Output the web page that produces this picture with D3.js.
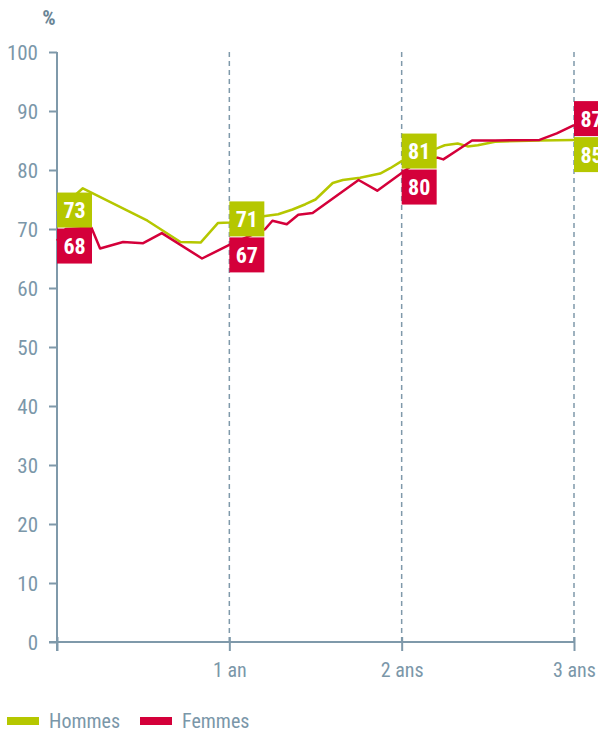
<!DOCTYPE html>
<html><head><meta charset="utf-8">
<script src="https://cdn.jsdelivr.net/npm/d3@7"></script>
<style>
html,body{margin:0;padding:0;background:#fff;}
svg{display:block;}
</style></head>
<body>
<svg id="c" width="598" height="730"></svg>
<script>
// ---- data ----
const monthsH = [0,1.8,6.3,8.6,10,11.2,12,14.5,15.4,16.4,17.3,18,19.2,19.9,21.1,22.5,23.2,24,26.5,27,27.9,28.6,29.3,30.5,33.6,36];
const hommes  = [73,76.9,71.4,67.8,67.7,71,71.1,72.2,72.5,73.3,74.2,75,77.8,78.3,78.7,79.4,80.3,81.5,83.7,84.2,84.5,84,84.2,84.8,85,85.1];
const monthsF = [0,0.6,2.4,3,4.6,6,7.3,10.1,12,14.5,15,16,16.8,17.8,21,22.3,24,24.9,26.5,26.9,27.9,28.9,30.5,33.6,34.8,36];
const femmes  = [68,70,70.2,66.7,67.8,67.6,69.3,65,67.3,70,71.4,70.8,72.4,72.7,78.3,76.5,79.5,81.1,82.1,81.8,83.4,85,85,85.1,86.2,87.6];
const labelMonths = [0,12,24,36];
const labelsH = [73,71,81,85];
const labelsF = [68,67,80,87];
const xTicks = [0,12,24,36];
const xTickLabels = ["","1 an","2 ans","3 ans"];
const yTicks = [0,10,20,30,40,50,60,70,80,90,100];
const seriesNames = ["Hommes","Femmes"];

const GREEN = "#b5c700", RED = "#d4003a", AXIS = "#7f99aa", TXT = "#7b97a9";
const svg = d3.select("#c");
const x = d3.scaleLinear().domain([0,36]).range([57,574]);
const y = d3.scaleLinear().domain([0,100]).range([642,52]);
const FONT = '"Liberation Sans Narrow","Roboto Condensed","DejaVu Sans Condensed",Roboto,sans-serif';

// y axis
const ya = svg.append("g").attr("transform","translate(57,0)")
  .call(d3.axisLeft(y).tickValues(yTicks).tickSize(8).tickPadding(11).tickSizeOuter(0));
ya.select(".domain").remove();
ya.selectAll(".tick line").attr("stroke",AXIS).attr("stroke-width",2);
ya.selectAll(".tick text").attr("fill",TXT).style("font-family",FONT).style("font-size","21px").attr("dy","0.35em");
svg.append("line").attr("x1",57).attr("x2",57).attr("y1",y(100)).attr("y2",y(0)+9)
  .attr("stroke",AXIS).attr("stroke-width",2);

// dashed verticals
svg.append("g").selectAll("line").data(xTicks.slice(1)).join("line")
  .attr("x1",d=>x(d)).attr("x2",d=>x(d)).attr("y1",y(100)).attr("y2",y(0))
  .attr("stroke",AXIS).attr("stroke-width",1.5).attr("stroke-dasharray","5,4");

// x axis
const xa = svg.append("g").attr("transform",`translate(0,${y(0)})`)
  .call(d3.axisBottom(x).tickValues(xTicks).tickFormat((d,i)=>xTickLabels[i]).tickSize(9).tickPadding(12).tickSizeOuter(0));
xa.select(".domain").attr("stroke",AXIS).attr("stroke-width",2).attr("d",`M49,0H${x(36)}`);
xa.selectAll(".tick line").attr("stroke",AXIS).attr("stroke-width",2).attr("y1",-5);
xa.selectAll(".tick text").attr("fill",TXT).style("font-family",FONT).style("font-size","20px");

// % label
svg.append("text").attr("x",49).attr("y",25).attr("text-anchor","middle").attr("fill","#6a8596")
  .style("font-family",FONT).style("font-weight","bold").style("font-size","21px").text("%");

// lines
const line = d3.line().x(d=>x(d[0])).y(d=>y(d[1]));
svg.append("path").datum(monthsH.map((m,i)=>[m,hommes[i]])).attr("d",line)
  .attr("fill","none").attr("stroke",GREEN).attr("stroke-width",2.5).attr("stroke-linejoin","round");
svg.append("path").datum(monthsF.map((m,i)=>[m,femmes[i]])).attr("d",line)
  .attr("fill","none").attr("stroke",RED).attr("stroke-width",2.5).attr("stroke-linejoin","round");

// value labels
const BW = 35, BH = 35;
labelMonths.forEach((m,i)=>{
  const items = [{v:labelsH[i],c:GREEN},{v:labelsF[i],c:RED}].sort((a,b)=>b.v-a.v);
  const mid = (y(items[0].v)+y(items[1].v))/2 + 2;
  const tops = [mid-BH-0.5, mid+0.5];
  items.forEach((it,k)=>{
    svg.append("rect").attr("x",x(m)).attr("y",tops[k]).attr("width",BW).attr("height",BH).attr("fill",it.c);
    svg.append("text").attr("x",x(m)+BW/2).attr("y",tops[k]+BH/2).attr("dy","0.36em")
      .attr("text-anchor","middle").attr("fill","#fff").style("font-family",FONT)
      .style("font-weight","bold").style("font-size","22px").text(it.v);
  });
});

// legend
const lg = svg.append("g");
[[7,GREEN,49],[140,RED,182]].forEach((d,i)=>{
  lg.append("rect").attr("x",d[0]).attr("y",717).attr("width",32).attr("height",8).attr("fill",d[1]);
  lg.append("text").attr("x",d[2]).attr("y",727.5).attr("fill",TXT).style("font-family",FONT)
    .style("font-size","20px").text(seriesNames[i]);
});
</script>
</body></html>
